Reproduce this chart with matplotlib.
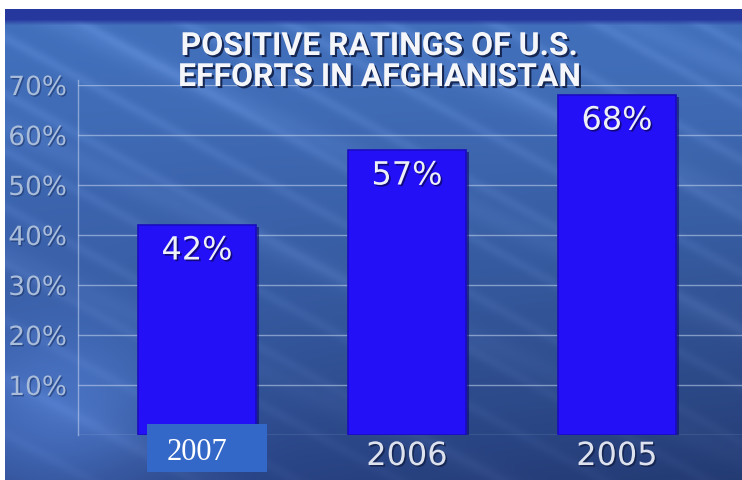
import numpy as np
import matplotlib
matplotlib.use('Agg')
import matplotlib.pyplot as plt
import matplotlib.patheffects as pe
from matplotlib.patches import Rectangle

# survey values
years = ['2007', '2006', '2005']
ratings = [42, 57, 68]
yticks = [10, 20, 30, 40, 50, 60, 70]
title_lines = ['POSITIVE RATINGS OF U.S.', 'EFFORTS IN AFGHANISTAN']

W, H = 742, 480
fig = plt.figure(figsize=(W / 100, H / 100), dpi=100, facecolor='white')

# ---- background: blue studio gradient with faint diagonal streaks ----
bg = fig.add_axes([5 / W, 0, 1 - 5 / W, 1 - 9 / H])
bg.set_axis_off()
h, w = H - 9, W - 5
yy, xx = np.mgrid[0:h, 0:w].astype(float)
fy, fx = yy / h, xx / w
top = np.array([0.27, 0.44, 0.74])
mid = np.array([0.24, 0.43, 0.72])
bot = np.array([0.17, 0.28, 0.55])
t = np.clip((fy - 0.1) / 0.9, 0, 1)[..., None]
img = top * (1 - t) + bot * t
# darker toward the right, lighter bottom-left glow
img = img * (1 - 0.18 * fx[..., None] * fy[..., None])
glow = np.exp(-(((xx - 60) / 120) ** 2 + ((yy - 400) / 90) ** 2))[..., None]
img = img + glow * np.array([0.10, 0.14, 0.18])
img = img * 0.65 + mid * 0.35 * (1 - t) + img * 0.35 * t
streak = np.sin((xx * 0.55 - yy) / 18.0) ** 16
streak2 = np.sin((xx * 0.45 - yy) / 41.0 + 1.3) ** 20
img = img + (0.05 * streak + 0.04 * streak2)[..., None] * (1 - 0.6 * fy[..., None])
# dark band across the top
band = np.clip(1 - (yy - 10) / 6, 0, 1)[..., None]
img = img * (1 - band) + np.array([0.15, 0.22, 0.62]) * band
bg.imshow(np.clip(img, 0, 1), extent=(0, w, h, 0), aspect='auto', interpolation='bilinear')
bg.set_xlim(0, w)
bg.set_ylim(h, 0)

# ---- chart axes ----
ax = fig.add_axes([78 / W, (H - 435) / H, 1 - 78 / W, 350 / H])
ax.patch.set_alpha(0)
x = np.arange(len(years))
ax.set_xlim(-0.567, 2.595)
ax.set_ylim(0, 70)
for s in ax.spines.values():
    s.set_visible(False)
ax.set_xticks([])
ax.set_yticks(yticks)
ax.set_yticklabels([f'{v}%' for v in yticks])
ax.tick_params(axis='y', length=0, pad=8, labelsize=19, labelcolor='#a9bddb')
for lab in ax.get_yticklabels():
    lab.set_path_effects([pe.withSimplePatchShadow(offset=(1, -1), shadow_rgbFace='#1c3468', alpha=0.6)])

grid_kw = dict(color='#c8d8f0', alpha=0.55, linewidth=1.0, zorder=1)
for v in [0] + yticks:
    ax.axhline(v, **grid_kw)
ax.plot([-0.567, -0.567], [0, 71], clip_on=False, **grid_kw)

bw = 0.56
shadow_w = 3 / 210
for xi, v in zip(x, ratings):
    ax.add_patch(Rectangle((xi - bw / 2 + shadow_w, -0.4), bw, v, facecolor='#0c0870',
                           alpha=0.6, zorder=2, linewidth=0))
    ax.bar(xi, v, width=bw, color='#2410f6', edgecolor='#1a0cc0', linewidth=1.2, zorder=3)
    ax.text(xi, v - 5.2, f'{v}%', ha='center', va='center', fontsize=23,
            color='#eef0f8', zorder=4,
            path_effects=[pe.withSimplePatchShadow(offset=(1.2, -1.2), shadow_rgbFace='#0a0650', alpha=0.7)])

# year labels under the bars
for xi, yr in zip(x, years):
    if xi == 0:
        continue
    ax.text(xi, -4.3, yr, ha='center', va='center', fontsize=23, color='#dde2ee',
            clip_on=False, zorder=4,
            path_effects=[pe.withSimplePatchShadow(offset=(1.2, -1.2), shadow_rgbFace='#101c40', alpha=0.7)])

# 2007 label sits in its own box
fig.patches.append(Rectangle((147 / W, (H - 472) / H), 120 / W, 48 / H,
                             transform=fig.transFigure, facecolor='#3468c8',
                             edgecolor='none', zorder=5))
fig.text(197 / W, (H - 452) / H, years[0], ha='center', va='center',
         fontsize=22, family='Liberation Serif', color='white', zorder=6)

# title
for i, line in enumerate(title_lines):
    fig.text(380 / W, (H - 46 - i * 31) / H, line, ha='center', va='center',
             fontsize=23, fontweight='bold', family='Roboto', color='#f4f6fa',
             path_effects=[pe.withSimplePatchShadow(offset=(1.5, -1.5), shadow_rgbFace='#0e1a40', alpha=0.85)])

fig.savefig('out.png', dpi=100, facecolor='white')
